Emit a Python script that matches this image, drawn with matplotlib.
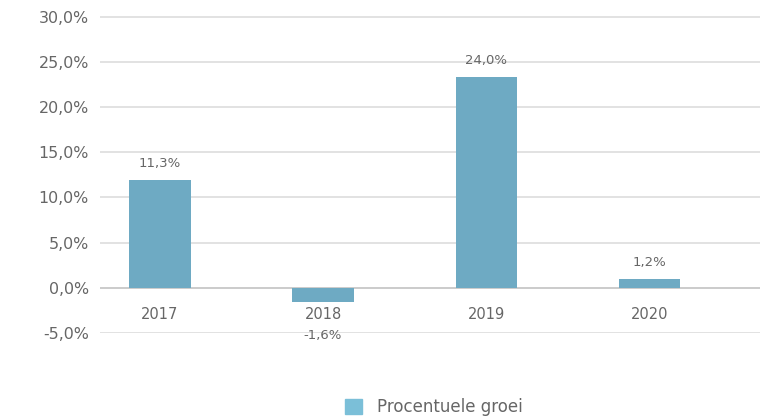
import matplotlib
matplotlib.use("Agg")
import matplotlib.pyplot as plt
from matplotlib.patches import Patch

years = ["2017", "2018", "2019", "2020"]
growth = [11.9, -1.6, 23.3, 1.0]
value_labels = ["11,3%", "-1,6%", "24,0%", "1,2%"]
y_ticks = [-5, 0, 5, 10, 15, 20, 25, 30]
legend_label = "Procentuele groei"

BAR_COLOR = "#6eaac3"
LEGEND_COLOR = "#7bbfd8"
TEXT_COLOR = "#666666"
GRID_COLOR = "#dddddd"

plt.rcParams["font.family"] = ["DejaVu Sans"]

fig = plt.figure(figsize=(7.6, 4.19), dpi=100)
# y range -5..30.2 -> pixel rows 333..14.7
ax = fig.add_axes([100 / 760, 1 - 333 / 419, 660 / 760, (333 - 14.7) / 419])

x = list(range(len(years)))
ax.bar(x, growth, width=0.375, color=BAR_COLOR, zorder=3)

ax.set_xlim(-0.368, 3.68)
ax.set_ylim(-5, 30.2)
ax.set_yticks(y_ticks)
ax.set_yticklabels([f"{v:.1f}%".replace(".", ",") for v in y_ticks])
ax.yaxis.grid(True, color=GRID_COLOR, linewidth=1.2, zorder=0)
ax.axhline(0, color="#cccccc", linewidth=1.4, zorder=2)
ax.set_xticks([])
for side in ["top", "right", "left", "bottom"]:
    ax.spines[side].set_visible(False)
ax.tick_params(axis="y", length=0, pad=8, labelsize=11.4, labelcolor=TEXT_COLOR)

# category labels just under the zero line
for xi, year in zip(x, years):
    ax.annotate(year, (xi, 0), xytext=(0, -19), textcoords="offset points",
                ha="center", va="center", fontsize=10.5, color=TEXT_COLOR)

# value labels
for xi, val, lab in zip(x, growth, value_labels):
    if val >= 0:
        ax.annotate(lab, (xi, val), xytext=(0, 12), textcoords="offset points",
                    ha="center", va="center", fontsize=9.5, color=TEXT_COLOR)
    else:
        ax.annotate(lab, (xi, val), xytext=(0, -24), textcoords="offset points",
                    ha="center", va="center", fontsize=9.5, color=TEXT_COLOR)

fig.legend(handles=[Patch(color=LEGEND_COLOR, label=legend_label)],
           loc="center", bbox_to_anchor=(434 / 760, 1 - 407 / 419),
           frameon=False, fontsize=12, labelcolor=TEXT_COLOR,
           handlelength=1.0, handleheight=1.0, handletextpad=0.9)

fig.savefig("out.png", dpi=100)
